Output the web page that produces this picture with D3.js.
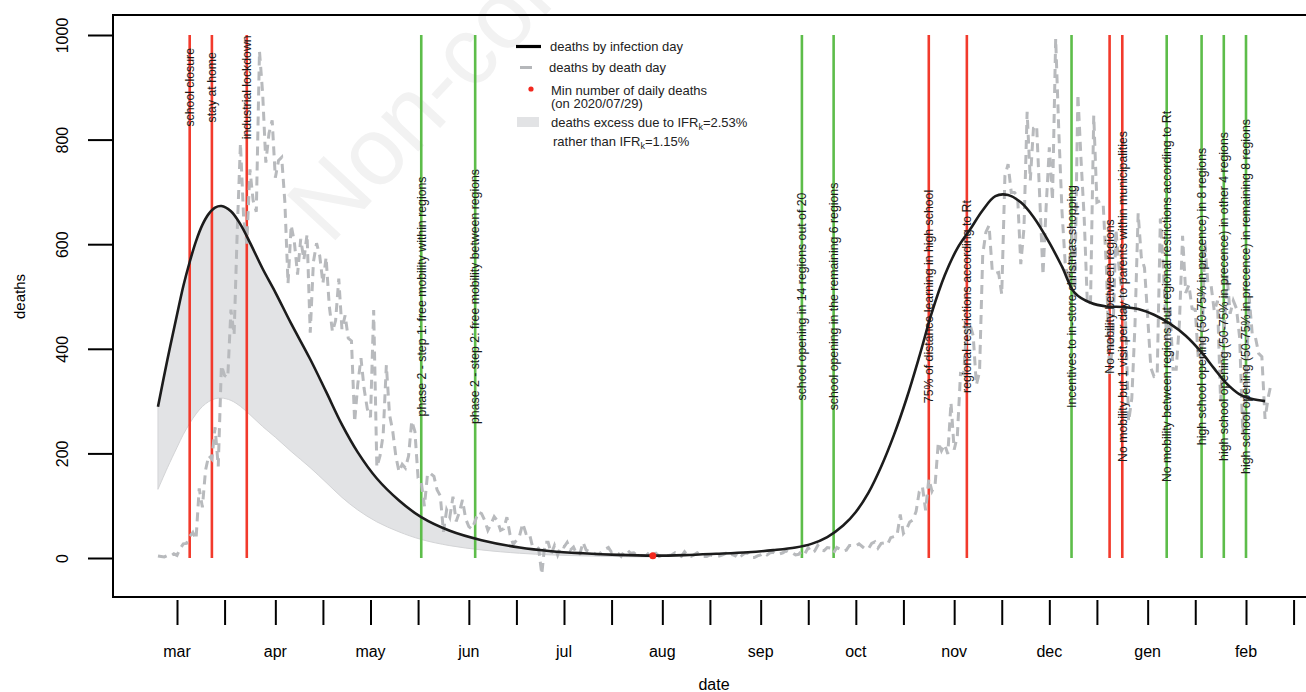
<!doctype html>
<html>
<head>
<title>deaths by infection day vs deaths by death day</title>
<script src="https://cdn.jsdelivr.net/npm/d3@7"></script>
<style>
body { margin: 0; background: #fff; }
text { font-family: "Liberation Sans", Arial, sans-serif; }
</style>
</head>
<body>
<script>
// daily deaths by death day (reported), first value is 2020-02-24
var deathStart = "2020-02-24";
var deathDay = [
  4, 3, 2, 5, 4, 8,
  5, 18, 27, 28, 41, 49, 36, 133, 97, 168, 196, 189, 250, 175, 368, 349, 345, 475, 427, 627, 793, 651, 601, 743, 683, 662, 969, 889, 756, 812, 837,
  727, 760, 766, 681, 525, 636, 604, 542, 610, 570, 619, 431, 566, 602, 578, 525, 575, 482, 433, 454, 534, 437, 464, 420, 415, 260, 333, 382, 323, 285,
  269, 474, 174, 195, 236, 369, 274, 243, 194, 165, 179, 172, 195, 262, 242, 153, 145, 99, 162, 161, 156, 130, 119, 50, 92, 78, 117, 70, 87, 111, 75,
  60, 55, 71, 88, 85, 72, 53, 65, 79, 71, 53, 56, 78, 44, 26, 34, 43, 66, 47, 49, 24, 23, 18, -31, 30, 30, 8, 24, 6, 23,
  21, 30, 15, 21, 7, 8, 30, 15, 12, 12, 7, 7, 13, 17, 20, 11, 13, 9, 3, 13, 15, 9, 10, 5, 5, 5, 5, 11, 6, 9, 3,
  5, 5, 5, 6, 10, 6, 3, 12, 4, 3, 6, 10, 6, 3, 3, 6, 4, 4, 4, 6, 9, 3, 7, 4, 13, 5, 9, 9, 1, 1, 4,
  6, 10, 6, 10, 11, 7, 8, 10, 14, 10, 10, 6, 7, 14, 9, 20, 10, 13, 24, 15, 14, 20, 19, 10, 20, 17, 13, 15, 24, 24,
  23, 27, 22, 17, 18, 28, 31, 19, 28, 29, 26, 39, 41, 43, 83, 47, 55, 69, 73, 89, 127, 136, 91, 151, 128, 141, 221, 205, 217, 199, 297,
  207, 233, 353, 352, 445, 446, 425, 331, 356, 580, 623, 636, 550, 544, 546, 504, 731, 753, 699, 699, 692, 562, 630, 853, 722, 822, 827, 686, 541, 672,
  785, 684, 993, 814, 662, 564, 528, 634, 499, 887, 761, 649, 484, 491, 846, 680, 683, 674, 553, 352, 415, 628, 553, 505, 459, 261, 305, 445, 659, 575, 555,
  462, 364, 347, 348, 649, 548, 414, 483, 361, 361, 448, 616, 507, 522, 477, 475, 377, 377, 603, 524, 521, 472, 492, 299, 420, 541, 467, 492, 477, 421, 237,
  329, 499, 426, 421, 391, 385, 266, 307, 336
];

// deaths by infection day (black curve)
var infDates = [
  "2020-02-24", "2020-02-27", "2020-03-01", "2020-03-03", "2020-03-05", "2020-03-07", "2020-03-09",
  "2020-03-11", "2020-03-13", "2020-03-15", "2020-03-18", "2020-03-21", "2020-03-24", "2020-03-28",
  "2020-04-01", "2020-04-06", "2020-04-12", "2020-04-17", "2020-04-22", "2020-04-27", "2020-05-03",
  "2020-05-10", "2020-05-17", "2020-05-26", "2020-06-05", "2020-06-17", "2020-06-27", "2020-07-07",
  "2020-07-18", "2020-07-29", "2020-08-08", "2020-08-18", "2020-08-28", "2020-09-05", "2020-09-12",
  "2020-09-17", "2020-09-22", "2020-09-27", "2020-10-01", "2020-10-05", "2020-10-09", "2020-10-13",
  "2020-10-17", "2020-10-21", "2020-10-25", "2020-10-29", "2020-11-02", "2020-11-06", "2020-11-10",
  "2020-11-14", "2020-11-18", "2020-11-22", "2020-11-26", "2020-12-01", "2020-12-05", "2020-12-09",
  "2020-12-14", "2020-12-19", "2020-12-24", "2020-12-29", "2021-01-03", "2021-01-08", "2021-01-13",
  "2021-01-18", "2021-01-22", "2021-01-26", "2021-01-30", "2021-02-03", "2021-02-07"
];
var infDeaths = [
  289, 380, 465, 520, 566, 606, 637,
  658, 670, 673, 663, 638, 603, 553,
  508, 448, 380, 318, 255, 202, 152,
  110, 78, 52, 34, 20, 13, 9,
  6, 4.5, 5.5, 8, 11, 15, 20,
  27, 40, 62, 88, 125, 175, 235,
  305, 385, 470, 540, 592, 628, 665,
  692, 694, 680, 652, 603, 557, 507,
  488, 481, 480, 476, 465, 448, 425,
  393, 362, 333, 313, 304, 300
];

var minDate = "2020-07-29";
var minDeaths = 4.5;
var ifrHigh = 2.53;
var ifrLow = 1.15;

// interventions
var eventDates = [
  "2020-03-05", "2020-03-12", "2020-03-23", "2020-05-17", "2020-06-03",
  "2020-09-14", "2020-09-24", "2020-10-24", "2020-11-05", "2020-12-08",
  "2020-12-20", "2020-12-24", "2021-01-07", "2021-01-18", "2021-01-25", "2021-02-01"
];
var eventKinds = [
  "restrict", "restrict", "restrict", "relax", "relax",
  "relax", "relax", "restrict", "restrict", "relax",
  "restrict", "restrict", "relax", "relax", "relax", "relax"
];
var eventLabels = [
  "school closure",
  "stay at home",
  "industrial lockdown",
  "phase 2 - step 1: free  mobility within regions",
  "phase 2 - step 2: free mobility between regions",
  "school opening in 14 regions out of 20",
  "school opening in the remaining 6 regions",
  "75% of distance learning in high school",
  "regional restrictions according to Rt",
  "Incentives to in-store christmas shopping",
  "No mobility between regions",
  "No mobility but 1 visit per day to parents within municipalities",
  "No mobility between regions but regional restrictions according to Rt",
  "high school opening (50-75% in precence) in 8 regions",
  "high school opening (50-75% in precence) in other 4 regions",
  "high school opening (50-75% in precence) in remaining 8 regions"
];

var monthLabels = ["mar", "apr", "may", "jun", "jul", "aug", "sep", "oct", "nov", "dec", "gen", "feb"];
var yTicks = [0, 200, 400, 600, 800, 1000];

var parse = d3.utcParse("%Y-%m-%d");
var kindColor = { restrict: "#f23a2c", relax: "#5dbd4a" };

var svg = d3.select("body").append("svg").attr("width", 1306).attr("height", 692);

var x = d3.scaleUtc()
    .domain([parse("2020-03-01"), parse("2021-02-01")])
    .range([177, 1246]);
var y = d3.scaleLinear().domain([0, 1000]).range([558, 35]);

// watermark
svg.append("text")
    .attr("transform", "translate(330,246) rotate(-47)")
    .attr("font-size", 96)
    .attr("fill", "#f2f2f2")
    .text("Non-commercial");

// band between IFR 2.53% and IFR 1.15% (first wave)
var inf = infDates.map(function (d, i) { return { date: parse(d), v: infDeaths[i] }; });
var wave1 = inf.filter(function (d) { return d.date <= parse(minDate); });

svg.append("path")
    .datum(wave1)
    .attr("fill", "#e2e3e5")
    .attr("stroke", "#d3d4d6")
    .attr("stroke-width", 1)
    .attr("d", d3.area()
        .x(function (d) { return x(d.date); })
        .y0(function (d) { return y(d.v * ifrLow / ifrHigh); })
        .y1(function (d) { return y(d.v); })
        .curve(d3.curveCatmullRom));

// intervention lines
svg.selectAll("line.event")
    .data(eventDates)
    .enter()
    .append("line")
    .attr("class", "event")
    .attr("x1", function (d) { return x(parse(d)); })
    .attr("x2", function (d) { return x(parse(d)); })
    .attr("y1", y(0))
    .attr("y2", y(1000))
    .attr("stroke", function (d, i) { return kindColor[eventKinds[i]]; })
    .attr("stroke-width", 2.6);

// deaths by death day
var t0 = parse(deathStart);
var daily = deathDay.map(function (v, i) { return { date: d3.utcDay.offset(t0, i), v: v }; });

svg.append("path")
    .datum(daily)
    .attr("fill", "none")
    .attr("stroke", "#b8babd")
    .attr("stroke-width", 3)
    .attr("stroke-dasharray", "9,6")
    .attr("d", d3.line()
        .x(function (d) { return x(d.date); })
        .y(function (d) { return y(d.v); }));

// deaths by infection day
svg.append("path")
    .datum(inf)
    .attr("fill", "none")
    .attr("stroke", "#1c1c1c")
    .attr("stroke-width", 2.6)
    .attr("d", d3.line()
        .x(function (d) { return x(d.date); })
        .y(function (d) { return y(d.v); })
        .curve(d3.curveCatmullRom));

// minimum
svg.append("circle")
    .attr("cx", x(parse(minDate)))
    .attr("cy", y(minDeaths))
    .attr("r", 3.5)
    .attr("fill", "#f2281e");

// intervention labels
svg.selectAll("text.event")
    .data(eventDates)
    .enter()
    .append("text")
    .attr("class", "event")
    .attr("transform", function (d) {
        var level = parse(d) < parse("2020-04-01") ? 900 : 500;
        return "translate(" + x(parse(d)) + "," + y(level) + ") rotate(-90)";
    })
    .attr("text-anchor", "middle")
    .attr("dy", "0.35em")
    .attr("font-size", 12.3)
    .attr("fill", "#1a1a1a")
    .text(function (d, i) { return eventLabels[i]; });

// legend
var lg = svg.append("g").attr("font-size", 13).attr("fill", "#222");
lg.append("line").attr("x1", 516).attr("x2", 541).attr("y1", 46.5).attr("y2", 46.5)
    .attr("stroke", "#000").attr("stroke-width", 3.2);
lg.append("text").attr("x", 550).attr("y", 51).text("deaths by infection day");
lg.append("line").attr("x1", 520).attr("x2", 532).attr("y1", 67.5).attr("y2", 67.5)
    .attr("stroke", "#b5b7ba").attr("stroke-width", 3);
lg.append("text").attr("x", 549).attr("y", 72).text("deaths by death day");
lg.append("circle").attr("cx", 531).attr("cy", 89).attr("r", 2.6).attr("fill", "#f2281e");
lg.append("text").attr("x", 551).attr("y", 95).text("Min number of daily deaths");
lg.append("text").attr("x", 551).attr("y", 108).text("(on " + minDate.replace(/-/g, "/") + ")");
lg.append("rect").attr("x", 517).attr("y", 117).attr("width", 22).attr("height", 10).attr("fill", "#e2e3e5");
var t1 = lg.append("text").attr("x", 551).attr("y", 127);
t1.append("tspan").text("deaths excess due to IFR");
t1.append("tspan").attr("font-size", 9).attr("dy", 3).text("k");
t1.append("tspan").attr("dy", -3).text("=" + ifrHigh + "%");
var t2 = lg.append("text").attr("x", 553).attr("y", 146);
t2.append("tspan").text("rather than IFR");
t2.append("tspan").attr("font-size", 9).attr("dy", 3).text("k");
t2.append("tspan").attr("dy", -3).text("=" + ifrLow + "%");

// frame
svg.append("rect")
    .attr("x", 113).attr("y", 15)
    .attr("width", 1400).attr("height", 582)
    .attr("fill", "none")
    .attr("stroke", "#000")
    .attr("stroke-width", 2);

// y axis
var yAxis = svg.append("g")
    .attr("transform", "translate(113,0)")
    .call(d3.axisLeft(y).tickValues(yTicks).tickSize(25).tickFormat(d3.format("d")));
yAxis.select(".domain").remove();
yAxis.selectAll("line").attr("stroke", "#000").attr("stroke-width", 2);
yAxis.selectAll("text")
    .attr("x", null)
    .attr("dy", "0.35em")
    .attr("transform", "translate(-51,0) rotate(-90)")
    .attr("text-anchor", "middle")
    .attr("font-size", 16)
    .attr("font-family", "'Liberation Sans', Arial, sans-serif")
    .attr("fill", "#000");

svg.append("text")
    .attr("transform", "translate(20," + y(500) + ") rotate(-90)")
    .attr("text-anchor", "middle")
    .attr("dy", "0.35em")
    .attr("font-size", 15)
    .text("deaths");

// x axis: ticks on the 1st and 16th of each month
var months = d3.utcMonth.range(parse("2020-03-01"), parse("2021-03-01"));
var tickDates = [];
months.forEach(function (m) {
    tickDates.push(m);
    tickDates.push(d3.utcDay.offset(m, 15));
});

var xAxis = svg.append("g")
    .attr("transform", "translate(0,600)")
    .call(d3.axisBottom(x).tickValues(tickDates).tickSize(25).tickFormat(""));
xAxis.select(".domain").remove();
xAxis.selectAll("line").attr("stroke", "#000").attr("stroke-width", 2);

svg.selectAll("text.month")
    .data(months.slice(0, monthLabels.length))
    .enter()
    .append("text")
    .attr("class", "month")
    .attr("x", function (d) { return x(d); })
    .attr("y", 657)
    .attr("text-anchor", "middle")
    .attr("font-size", 16)
    .text(function (d, i) { return monthLabels[i]; });

svg.append("text")
    .attr("x", 714)
    .attr("y", 690)
    .attr("text-anchor", "middle")
    .attr("font-size", 16)
    .text("date");
</script>
</body>
</html>
